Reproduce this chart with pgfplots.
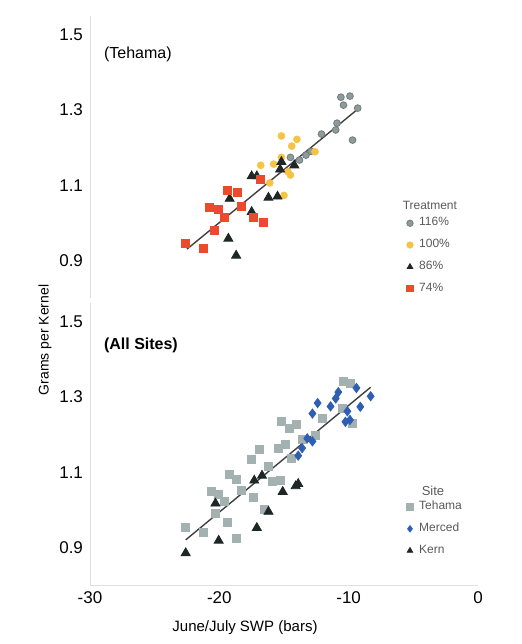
\documentclass[border=0pt]{standalone}
\usepackage{fontspec}
\setmainfont{Liberation Sans}
\usepackage{pgfplots}
\pgfplotsset{compat=1.18}

\definecolor{grey116}{HTML}{8E9B9B}
\definecolor{yel100}{HTML}{F6C445}
\definecolor{red74}{HTML}{EC4A2C}
\definecolor{blk86}{HTML}{1E2626}
\definecolor{merced}{HTML}{2F5FB3}
\definecolor{tehama}{HTML}{A3B1B1}

\pgfplotsset{
  panel/.style={
    scale only axis, width=194pt, height=141pt,
    xmin=-30, xmax=0, ymin=0.8, ymax=1.55,
    axis line style={gray!25, line width=0.4pt},
    ytick={0.9,1.1,1.3,1.5},
    yticklabel style={/pgf/number format/.cd, fixed, fixed zerofill, precision=1},
    /pgf/number format/assume math mode=true,
    tick label style={font=\fontsize{8.5}{10}\selectfont},
    tick style={draw=none},
    clip=false,
    legend style={draw=none, fill=none, font=\fontsize{6}{7}\selectfont,
      text=gray!70!black, row sep=1.2pt, anchor=north west,
      nodes={inner xsep=3pt}},
    legend cell align=left,
    legend image code/.code={\draw[#1, mark size=1.6pt] plot coordinates {(0.1cm,0cm)};},
  },
  fit/.style={black!75, line width=0.7pt, no marks, forget plot},
}

\begin{document}
\begin{tikzpicture}
\path[use as bounding box] (-45pt,-29.5pt) rectangle (216pt,292.5pt);

% top panel: Tehama by treatment
\begin{axis}[panel, at={(0pt,143.5pt)},
  axis y line*=left, axis x line=none, xtick=\empty,
  legend style={at={(axis description cs:0.80,0.315)}}]
\addplot[only marks, mark=*, mark size=1.7pt, draw=grey116!80!black, fill=grey116]
  coordinates {(-10.6,1.334) (-9.9,1.337) (-10.4,1.313) (-9.3,1.305) (-10.9,1.265)
  (-11.0,1.247) (-12.1,1.236) (-9.7,1.22) (-13.3,1.18) (-14.5,1.174) (-13.8,1.167) (-12.9,1.19)};
\addlegendentry{116\%}
\addplot[only marks, mark=*, mark size=1.7pt, draw=yel100, fill=yel100]
  coordinates {(-15.2,1.231) (-14.0,1.222) (-14.4,1.204) (-16.8,1.153) (-15.8,1.156)
  (-15.2,1.174) (-16.1,1.106) (-14.7,1.136) (-14.5,1.127) (-12.6,1.189) (-15.0,1.073)};
\addlegendentry{100\%}
\addplot[only marks, mark=triangle*, mark size=2.6pt, draw=blk86, fill=blk86]
  coordinates {(-19.3,0.958) (-18.7,0.913) (-19.2,1.064) (-17.5,1.029) (-17.5,1.124)
  (-17.1,1.124) (-16.2,1.067) (-15.5,1.07) (-15.2,1.162) (-15.3,1.142) (-14.2,1.153)};
\addlegendentry{86\%}
\addplot[only marks, mark=square*, mark size=2pt, draw=red74, fill=red74]
  coordinates {(-22.6,0.946) (-21.2,0.933) (-20.4,0.98) (-20.8,1.04) (-20.1,1.035)
  (-19.6,1.015) (-19.4,1.087) (-18.6,1.08) (-18.3,1.044) (-17.4,1.014) (-16.6,1.0) (-16.8,1.115)};
\addlegendentry{74\%}
\addplot[fit] coordinates {(-22.5,0.93) (-9.2,1.305)};
\node[anchor=west, font=\fontsize{8}{9}\selectfont] at (rel axis cs:0.018,0.863) {(Tehama)};
\node[font=\fontsize{6}{7}\selectfont, text=gray!70!black] at (axis description cs:0.876,0.33) {Treatment};
\end{axis}

% bottom panel: all sites
\begin{axis}[panel, at={(0pt,0pt)},
  axis y line*=left, axis x line*=bottom,
  xtick={-30,-20,-10,0},
  legend style={at={(axis description cs:0.80,0.328)}}]
\addplot[only marks, mark=square*, mark size=2pt, draw=tehama, fill=tehama]
  coordinates {(-22.6,0.952) (-21.2,0.94) (-19.4,0.967) (-18.7,0.923) (-20.6,1.05)
  (-20.1,1.041) (-19.6,1.022) (-20.3,0.99) (-19.2,1.094) (-18.7,1.081) (-18.3,1.052)
  (-17.5,1.133) (-16.9,1.16) (-17.4,1.034) (-16.5,1.002) (-16.2,1.116) (-15.9,1.076)
  (-15.3,1.078) (-15.4,1.164) (-14.9,1.173) (-15.2,1.236) (-14.6,1.217) (-14.05,1.226)
  (-14.4,1.138) (-13.6,1.186) (-12.05,1.243) (-10.4,1.341) (-9.9,1.335) (-10.5,1.269)
  (-9.7,1.23) (-12.55,1.199)};
\addlegendentry{Tehama}
\addplot[only marks, mark=diamond*, mark size=2.3pt, draw=merced, fill=merced]
  coordinates {(-12.4,1.284) (-12.8,1.256) (-11.4,1.275) (-11.0,1.296) (-10.8,1.313)
  (-9.4,1.324) (-8.3,1.302) (-9.1,1.274) (-10.1,1.262) (-10.25,1.234) (-9.9,1.239)
  (-12.8,1.182) (-13.6,1.164) (-13.9,1.144) (-13.2,1.19)};
\addlegendentry{Merced}
\addplot[only marks, mark=triangle*, mark size=2.6pt, draw=blk86, fill=blk86]
  coordinates {(-22.6,0.885) (-20.05,0.918) (-17.1,0.952) (-20.3,1.017) (-17.3,1.078)
  (-16.7,1.091) (-16.2,0.995) (-15.1,1.048) (-14.1,1.063) (-13.9,1.069)};
\addlegendentry{Kern}
\addplot[fit] coordinates {(-22.6,0.92) (-8.3,1.326)};
\node[anchor=west, font=\bfseries\fontsize{8}{9}\selectfont] at (rel axis cs:0.018,0.849) {(All Sites)};
\node[font=\fontsize{6.5}{7.5}\selectfont, text=gray!70!black] at (axis description cs:0.884,0.335) {Site};
\end{axis}

\node[rotate=90, font=\fontsize{7}{8}\selectfont] at (-22.5pt,122.5pt) {Grams per Kernel};
\node[font=\fontsize{7.5}{9}\selectfont] at (77.5pt,-21.5pt) {June/July SWP (bars)};
\end{tikzpicture}
\end{document}
